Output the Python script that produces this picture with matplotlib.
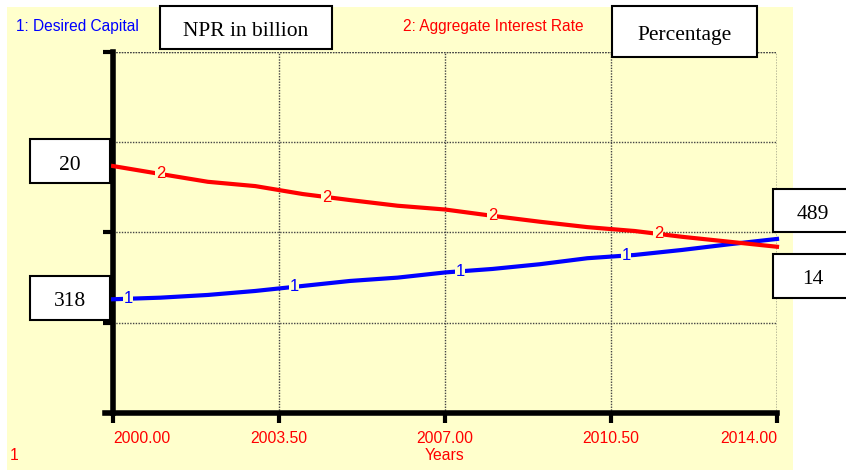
import numpy as np
import matplotlib.pyplot as plt
from matplotlib.patches import Rectangle

# data (yearly points)
years = [2000, 2001, 2002, 2003, 2004, 2005, 2006, 2007,
         2008, 2009, 2010, 2011, 2012, 2013, 2014]
desired_capital = [318, 322.5, 330.2, 341.5, 355.7, 369.9, 379.3, 394.0,
                   403.9, 417.3, 434.3, 443.6, 457.8, 474.0, 489]
interest_rate = [20, 19.41, 18.83, 18.51, 17.92, 17.47, 17.05, 16.77,
                 16.30, 15.86, 15.46, 15.17, 14.74, 14.37, 14]

xtick_vals = [2000, 2003.5, 2007, 2010.5, 2014]
xtick_labels = ["2000.00", "2003.50", "2007.00", "2010.50", "2014.00"]

# spots where the series number is written on the line
blue_label_x = [2000.32, 2003.82, 2007.32, 2010.82]
red_label_x = [2001.0, 2004.5, 2008.0, 2011.5]

BLUE = "#0000ff"
RED = "#ff0000"
YELLOW = "#ffffcc"

W, H = 846, 470
fig = plt.figure(figsize=(W / 100, H / 100), dpi=100)


def px(x, y, w, h):
    """pixel box (top-left origin) -> figure fraction"""
    return (x / W, 1 - (y + h) / H, w / W, h / H)


# yellow panel behind everything
x0, y0, w0, h0 = px(7, 7, 786, 463)
fig.add_artist(Rectangle((x0, y0), w0, h0, transform=fig.transFigure,
                         facecolor=YELLOW, edgecolor="none", zorder=0))

ax = fig.add_axes(px(113, 52, 664, 361))
ax.set_facecolor("none")
ax.set_xlim(2000, 2014)
ax.set_ylim(-4.5, 1019)

ax2 = ax.twinx()
ax2.set_ylim(1.64, 28.48)

# grid
ax.set_xticks(xtick_vals)
ax.set_xticklabels(xtick_labels, color=RED, fontsize=11.3, family="Liberation Sans")
tl = ax.get_xticklabels()
tl[0].set_ha("left")
tl[-1].set_ha("right")
lo, hi = ax.get_ylim()
ax.set_yticks(np.linspace(lo, hi, 5))
ax.set_yticklabels([])
ax.grid(True, color="#444444", linestyle=(0, (1, 1)), linewidth=1)
ax.tick_params(axis="x", direction="out", length=7, width=3, pad=6)
ax.tick_params(axis="y", direction="out", length=7, width=3)

for s in ["top", "right"]:
    ax.spines[s].set_visible(False)
for s in ["left", "bottom"]:
    ax.spines[s].set_linewidth(4)
ax.spines["bottom"].set_bounds(1999.83, 2014)
for s in ax2.spines.values():
    s.set_visible(False)
ax2.set_yticks([])

# dotted top / right frame
ax.axhline(hi, color="#444444", linestyle=(0, (1, 1)), linewidth=1)
ax.axvline(2014, color="#444444", linestyle=(0, (1, 1)), linewidth=1)

ax.plot(years, desired_capital, color=BLUE, lw=3, zorder=3, clip_on=False)
ax2.plot(years, interest_rate, color=RED, lw=3, zorder=3, clip_on=False)

for xv in blue_label_x:
    ax.text(xv, np.interp(xv, years, desired_capital), "1", color=BLUE,
            fontsize=12, ha="center", va="center", family="Liberation Sans", zorder=4,
            bbox=dict(facecolor=YELLOW, edgecolor="none", pad=0.3))
for xv in red_label_x:
    ax2.text(xv, np.interp(xv, years, interest_rate), "2", color=RED,
             fontsize=12, ha="center", va="center", family="Liberation Sans", zorder=4,
             bbox=dict(facecolor=YELLOW, edgecolor="none", pad=0.3))

# legend texts
fig.text(16 / W, 1 - 27 / H, "1: Desired Capital", color=BLUE, fontsize=11.2,
         va="center", family="Liberation Sans")
fig.text(403 / W, 1 - 27 / H, "2: Aggregate Interest Rate", color=RED, fontsize=11.2,
         va="center", family="Liberation Sans")
fig.text(445 / W, 1 - 456 / H, "Years", color=RED, fontsize=11.3,
         ha="center", va="center", family="Liberation Sans")
fig.text(10 / W, 1 - 456 / H, "1", color=RED, fontsize=11.3,
         va="center", family="Liberation Sans")

# white value boxes
boxes = [
    (160, 6, 172, 43, "NPR in billion"),
    (612, 6, 145, 51, "Percentage"),
    (30, 139, 80, 44, "20"),
    (30, 276, 80, 44, "318"),
    (773, 189, 90, 43, "489"),
    (773, 254, 90, 44, "14"),
]
for bx, by, bw, bh, txt in boxes:
    rx, ry, rw, rh = px(bx, by, bw, bh)
    fig.add_artist(Rectangle((rx, ry), rw, rh, transform=fig.transFigure,
                             facecolor="white", edgecolor="black", lw=1.5, zorder=5))
    cx = (bx + bw / 2) / W
    if txt in ("489", "14"):
        cx = (bx + 40) / W
    # text sits a little below the box centre
    fig.text(cx, ry + rh / 2 - 4 / H, txt, fontsize=15.5, ha="center", va="center",
             family="Liberation Serif", zorder=6)

plt.savefig("out.png", dpi=100)
